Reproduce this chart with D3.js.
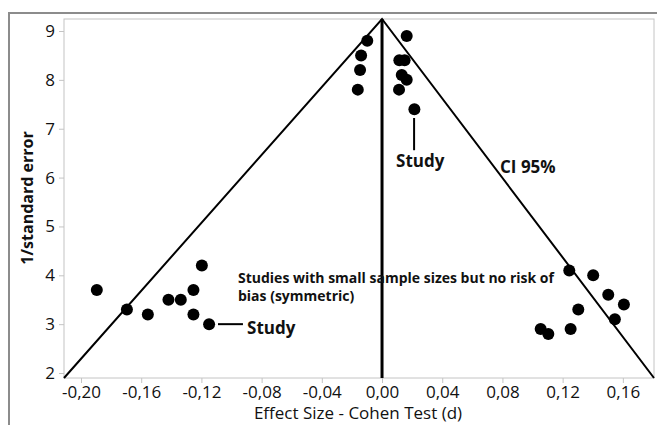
<!DOCTYPE html>
<html>
<head>
<meta charset="utf-8">
<script src="https://cdn.jsdelivr.net/npm/d3@7"></script>
<style>
  body { margin: 0; background: #fff; }
  svg text { font-family: "Open Sans", "Noto Sans", sans-serif; fill: #111; }
</style>
</head>
<body>
<div id="chart"></div>
<script>
// Funnel plot: effect size (Cohen d) vs 1/standard error
var effectSize = [
    -0.1895, -0.1695, -0.1556, -0.1419, -0.1337, -0.1253, -0.1197, -0.1253, -0.1149,
    -0.0098, -0.0139, -0.0146, -0.0161,
     0.0164,  0.0115,  0.0150,  0.0131,  0.0164,  0.0113,  0.0215,
     0.1244,  0.1403,  0.1503,  0.1607,  0.1304,  0.1547,  0.1253,  0.1054,  0.1105
];
var invSE = [
    3.7, 3.3, 3.2, 3.5, 3.5, 3.7, 4.2, 3.2, 3.0,
    8.8, 8.5, 8.2, 7.8,
    8.9, 8.4, 8.4, 8.1, 8.0, 7.8, 7.4,
    4.1, 4.0, 3.6, 3.4, 3.3, 3.1, 2.9, 2.9, 2.8
];
var xTicks = [-0.20, -0.16, -0.12, -0.08, -0.04, 0.00, 0.04, 0.08, 0.12, 0.16];
var yTicks = [2, 3, 4, 5, 6, 7, 8, 9];
var funnelX = [-0.2113, 0, 0.1807];
var funnelY = [1.898, 9.2456, 1.898];

var width = 657, height = 425;
var margin = {top: 19, right: 3, bottom: 47, left: 64};

var svg = d3.select("#chart").append("svg")
    .attr("width", width)
    .attr("height", height);

// outer frame
svg.append("rect")
    .attr("x", 9).attr("y", 13)
    .attr("width", width + 10).attr("height", height + 10)
    .attr("fill", "none")
    .attr("stroke", "#8c8c8c")
    .attr("stroke-width", 2);

var x = d3.scaleLinear()
    .domain([-0.2113, 0.1807])
    .range([margin.left, width - margin.right]);
var y = d3.scaleLinear()
    .domain([1.898, 9.2456])
    .range([height - margin.bottom, margin.top]);

var loc = d3.formatLocale({decimal: ",", thousands: ".", grouping: [3], currency: ["", ""], minus: "-"});
var fmt = loc.format(".2f");

// plot frame
svg.append("rect")
    .attr("x", x.range()[0]).attr("y", y.range()[1])
    .attr("width", x.range()[1] - x.range()[0])
    .attr("height", y.range()[0] - y.range()[1])
    .attr("fill", "none")
    .attr("stroke", "#c4c4c4")
    .attr("stroke-width", 1);

var xAxis = svg.append("g")
    .attr("transform", "translate(0," + y.range()[0] + ")")
    .call(d3.axisBottom(x).tickValues(xTicks).tickFormat(fmt).tickSize(5).tickPadding(3));
var yAxis = svg.append("g")
    .attr("transform", "translate(" + x.range()[0] + ",0)")
    .call(d3.axisLeft(y).tickValues(yTicks).tickFormat(d3.format("d")).tickSize(5).tickPadding(4));

[xAxis, yAxis].forEach(function(g) {
    g.select(".domain").remove();
    g.selectAll(".tick line").attr("stroke", "#c4c4c4");
    g.selectAll(".tick text")
        .style("font-size", "17px")
        .style("font-family", "'Open Sans', sans-serif")
        .attr("fill", "#111");
});

// funnel (CI 95%) lines
var line = d3.line()
    .x(function(d) { return x(d[0]); })
    .y(function(d) { return y(d[1]); });

svg.append("path")
    .datum(d3.zip(funnelX, funnelY))
    .attr("d", line)
    .attr("fill", "none")
    .attr("stroke", "#000")
    .attr("stroke-width", 2);

svg.append("path")
    .datum([[0, funnelY[0]], [0, funnelY[1]]])
    .attr("d", line)
    .attr("fill", "none")
    .attr("stroke", "#000")
    .attr("stroke-width", 3);

// studies
svg.selectAll(".dot")
    .data(d3.zip(effectSize, invSE))
    .enter().append("circle")
    .attr("class", "dot")
    .attr("cx", function(d) { return x(d[0]); })
    .attr("cy", function(d) { return y(d[1]); })
    .attr("r", 6)
    .attr("fill", "#000");

// annotations
var leaders = [
    [[0.0213, 7.22], [0.0213, 6.56]],
    [[-0.109, 3.0], [-0.0924, 3.0]]
];
svg.selectAll(".leader")
    .data(leaders)
    .enter().append("path")
    .attr("class", "leader")
    .attr("d", line)
    .attr("stroke", "#000")
    .attr("stroke-width", 2);

var labels = [
    {text: "Study", x: 0.0093, y: 6.216, size: 17},
    {text: "CI 95%", x: 0.0784, y: 6.094, size: 17},
    {text: "Study", x: -0.0897, y: 2.80, size: 17},
    {text: "Studies with small sample sizes but no risk of", x: -0.0957, y: 3.84, size: 14},
    {text: "bias (symmetric)", x: -0.0957, y: 3.47, size: 14}
];
svg.selectAll(".label")
    .data(labels)
    .enter().append("text")
    .attr("class", "label")
    .attr("x", function(d) { return x(d.x); })
    .attr("y", function(d) { return y(d.y); })
    .style("font-size", function(d) { return d.size + "px"; })
    .style("font-weight", "bold")
    .text(function(d) { return d.text; });

// axis titles
svg.append("text")
    .attr("x", 358).attr("y", 419)
    .attr("text-anchor", "middle")
    .style("font-size", "17px")
    .text("Effect Size - Cohen Test (d)");

svg.append("text")
    .attr("transform", "translate(33,198) rotate(-90)")
    .attr("text-anchor", "middle")
    .style("font-size", "16px")
    .style("font-weight", "bold")
    .text("1/standard error");
</script>
</body>
</html>
